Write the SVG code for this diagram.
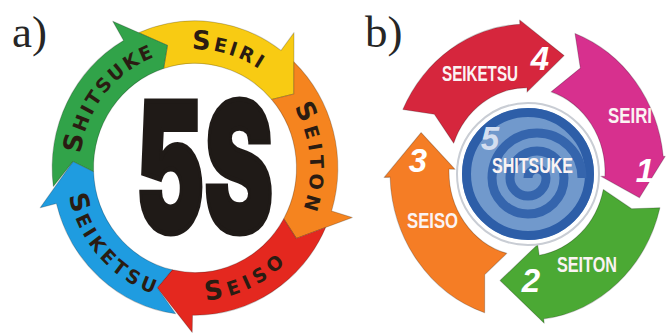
<svg xmlns="http://www.w3.org/2000/svg" width="667" height="334" viewBox="0 0 667 334">
<defs>
<style>
.lbl{font-family:"Liberation Serif","DejaVu Serif",serif;font-size:45px;fill:#262626}
.ka{font-family:"DejaVu Sans","Liberation Sans",sans-serif;font-weight:bold;fill:#2a1c12;font-size:19px}
.big{font-size:26px}
.kb{font-family:"Liberation Sans",Arial,sans-serif;font-weight:bold;fill:#fbf3f3;font-size:22px}
.num{font-family:"Liberation Sans",Arial,sans-serif;font-weight:bold;font-style:italic;fill:#ffffff;font-size:33px}
.seg{stroke:#000;stroke-opacity:0.22;stroke-width:1;stroke-linejoin:round}
</style>
<path id="pSeiri" d="M113.72,83.84 A117,117 0 0 1 308.52,139.70"/>
<path id="pSeiton" d="M243.52,61.53 A117,117 0 0 1 262.94,263.25"/>
<path id="pShitsuke" d="M86.52,211.83 A117,117 0 0 1 211.28,52.14"/>
<path id="pSeiso" d="M118.93,274.65 A131,131 0 0 0 325.40,180.55"/>
<path id="pSeiketsu" d="M70.77,126.43 A131,131 0 0 0 221.12,296.37"/>
</defs>
<rect width="667" height="334" fill="#ffffff"/>

<text id="label-a" class="lbl" x="12" y="47">a)</text>
<text id="label-b" class="lbl" x="365" y="47">b)</text>

<g id="diagram-a" transform="matrix(0.985 0 0 1.015 2.925 -2.52)">
  <g id="a-seiri">
    <path class="seg" fill="#f8cb13" d="M137.88,34.73 A145,145 0 0 1 282.26,52.20 L295.50,34.63 L295.32,95.11 L272.73,100.42 A103,103 0 0 0 163.17,70.04 L167.10,47.18 Z"/>
    <text class="ka"><textPath href="#pSeiri" startOffset="50%" text-anchor="middle" textLength="72" lengthAdjust="spacing"><tspan class="big">S</tspan>EIRI</textPath></text>
  </g>
  <g id="a-seiton">
    <path class="seg" fill="#f5841f" d="M295.35,63.34 A145,145 0 0 1 333.66,210.40 L354.70,216.83 L297.80,237.34 L285.08,217.93 A103,103 0 0 0 272.73,100.42 L295.32,95.11 Z"/>
    <text class="ka"><textPath href="#pSeiton" startOffset="50%" text-anchor="middle" textLength="104" lengthAdjust="spacing"><tspan class="big">S</tspan>EITON</textPath></text>
  </g>
  <g id="a-seiso">
    <path class="seg" fill="#e4281f" d="M327.68,226.51 A145,145 0 0 1 192.47,312.98 L192.17,329.98 L156.68,285.94 L171.83,268.36 A103,103 0 0 0 285.08,217.93 L297.80,237.34 Z"/>
    <text class="ka"><textPath href="#pSeiso" startOffset="50%" text-anchor="middle" textLength="90" lengthAdjust="spacing"><tspan class="big">S</tspan>EISO</textPath></text>
  </g>
  <g id="a-seiketsu">
    <path class="seg" fill="#1f9ce0" d="M175.32,311.65 A145,145 0 0 1 54.31,203.08 L37.81,207.19 L71.17,161.51 L92.06,171.59 A103,103 0 0 0 171.83,268.36 L156.68,285.94 Z"/>
    <text class="ka"><textPath href="#pSeiketsu" startOffset="50%" text-anchor="middle" textLength="135" lengthAdjust="spacing"><tspan class="big">S</tspan>EIKETSU</textPath></text>
  </g>
  <g id="a-shitsuke">
    <path class="seg" fill="#31a349" d="M51.14,186.17 A145,145 0 0 1 122.50,42.43 L111.50,23.38 L167.10,47.18 L163.17,70.04 A103,103 0 0 0 92.06,171.59 L71.17,161.51 Z"/>
    <text class="ka"><textPath href="#pShitsuke" startOffset="50%" text-anchor="middle" textLength="127" lengthAdjust="spacing"><tspan class="big">S</tspan>HITSUKE</textPath></text>
  </g>
  <g id="a-center">
    <text x="204.5" y="231" text-anchor="middle" font-family="Inter,'DejaVu Sans',sans-serif" font-weight="900" font-size="178" fill="#1f1a17" stroke="#1f1a17" stroke-width="5" stroke-linejoin="miter" textLength="140" lengthAdjust="spacingAndGlyphs">5S</text>
  </g>
</g>

<g id="diagram-b">
  <g id="b-arrows" transform="matrix(1 0 0 1.08 0 -13.76)">
    <g id="b-seiketsu">
      <path class="seg" fill="#d6263d" d="M402.84,114.10 A137,137 0 0 1 519.83,35.19 L519.63,31.20 L564.12,64.21 L527,98 L527,94 A78,78 0 0 0 453.70,145.32 L434.34,118.5 Z"/>
    </g>
    <g id="b-seiri">
      <path class="seg" fill="#d7308e" d="M574.98,43.67 A137,137 0 0 1 663.25,157.68 L665.24,157.47 L639.48,195.91 L600.90,175.87 L604.89,176.08 A78,78 0 0 0 551.10,97.81 L580.33,75.79 Z"/>
    </g>
    <g id="b-seiton">
      <path class="seg" fill="#4ba934" d="M659.93,205.14 A137,137 0 0 1 543.70,307.97 L544.19,311.94 L500.08,272.45 L537.64,239.16 L539.20,249.04 A78,78 0 0 0 603.29,188.22 L631.62,205.99 Z"/>
    </g>
    <g id="b-seiso">
      <path class="seg" fill="#f57d25" d="M484.67,302.30 A137,137 0 0 1 390.08,176.78 L384.09,176.99 L421.10,135.53 L455.04,169.49 L449.05,169.28 A78,78 0 0 0 506.81,247.34 L484.70,267.00 Z"/>
    </g>
  </g>
  <g id="b-shitsuke">
    <circle cx="528" cy="174" r="71" fill="#ffffff" stroke="#c9cdd4" stroke-width="2"/>
    <circle cx="528" cy="174" r="66" fill="#7199cc"/>
    <circle cx="528" cy="174" r="61.5" fill="none" stroke="#2d5ea8" stroke-width="9"/>
    <path fill="none" stroke="#3565ad" stroke-width="9" d="M528,178 A9,9 0 0 1 546,178 A18,18 0 0 1 510,178 A27,27 0 0 1 564,178 A36,36 0 0 1 492,178 A45,45 0 0 1 582,178"/>
    <text class="num" x="490" y="150" text-anchor="middle" font-size="30" style="fill:#d3def0">5</text>
    <text class="kb" x="532.5" y="173" text-anchor="middle" textLength="81" lengthAdjust="spacingAndGlyphs">SHITSUKE</text>
  </g>
  <g id="b-labels">
    <text class="kb" x="480" y="80.5" text-anchor="middle" textLength="76" lengthAdjust="spacingAndGlyphs">SEIKETSU</text>
    <text class="num" x="540" y="70" text-anchor="middle">4</text>
    <text class="kb" x="630" y="123" text-anchor="middle" textLength="44" lengthAdjust="spacingAndGlyphs">SEIRI</text>
    <text class="num" x="645" y="182" text-anchor="middle">1</text>
    <text class="kb" x="587" y="272" text-anchor="middle" textLength="60" lengthAdjust="spacingAndGlyphs">SEITON</text>
    <text class="num" x="531" y="292" text-anchor="middle">2</text>
    <text class="kb" x="432.5" y="228" text-anchor="middle" textLength="51" lengthAdjust="spacingAndGlyphs">SEISO</text>
    <text class="num" x="418" y="172" text-anchor="middle">3</text>
  </g>
</g>
</svg>
